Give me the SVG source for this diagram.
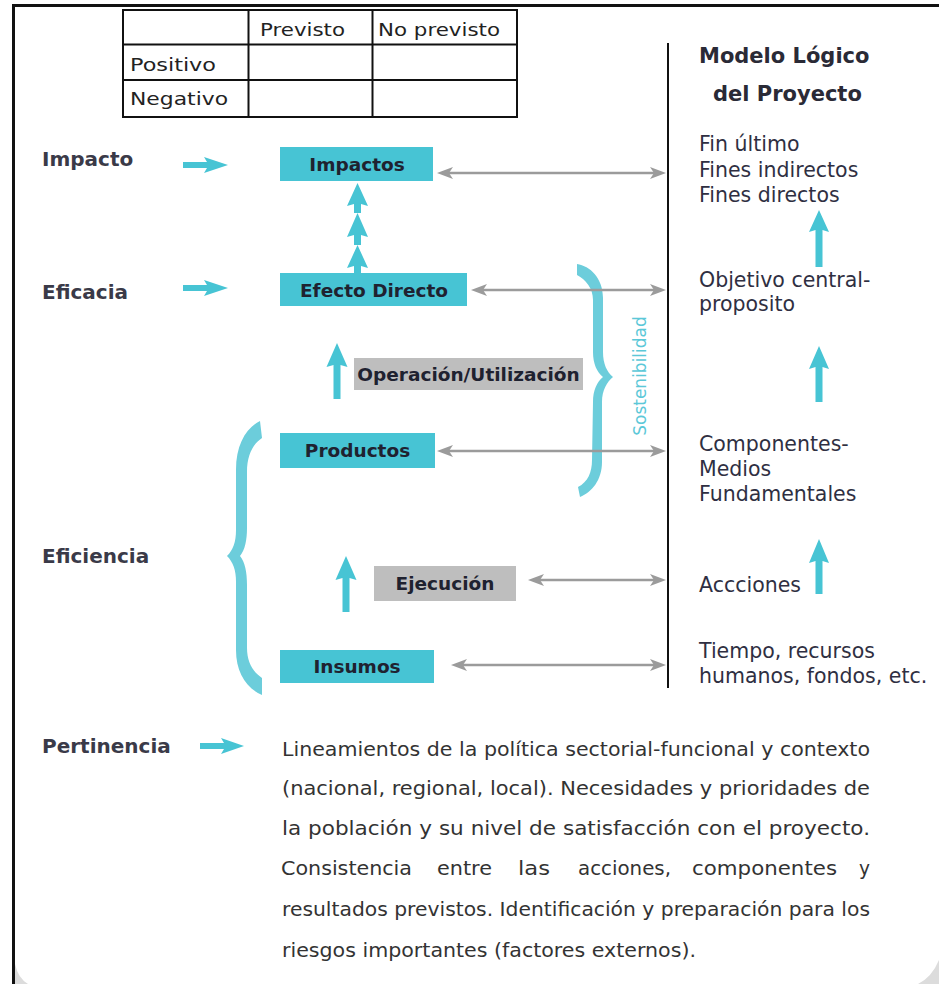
<svg xmlns="http://www.w3.org/2000/svg" width="939" height="984" viewBox="0 0 939 984">
<defs>
<style>
.lbl{font-family:"DejaVu Sans",sans-serif;font-weight:bold;font-size:20px;fill:#3a3a48}
.box{fill:#47c4d4}
.gbox{fill:#bebebe}
.bt{font-family:"DejaVu Sans",sans-serif;font-weight:bold;font-size:18.5px;fill:#1f2230;text-anchor:middle}
.rt{font-family:"DejaVu Sans",sans-serif;font-size:20.5px;fill:#2f2f42}
.rh{font-family:"DejaVu Sans",sans-serif;font-weight:bold;font-size:21px;fill:#2a2a36}
.tt{font-family:"DejaVu Sans",sans-serif;font-size:17px;fill:#222}
.pt{font-family:"DejaVu Sans",sans-serif;font-size:19px;fill:#333}
.cy{fill:#47c4d4}
.br{fill:#6ccddb}
.ga{stroke:#9b9b9b;stroke-width:2.5;fill:none;marker-start:url(#gh);marker-end:url(#gh)}
.tbl{stroke:#111;stroke-width:2;fill:none}
</style>
<marker id="gh" viewBox="0 0 16 12" refX="11" refY="6" markerWidth="16" markerHeight="12" markerUnits="userSpaceOnUse" orient="auto-start-reverse">
<path d="M0,0 L16,6 L0,12 L4,6 Z" fill="#9b9b9b"/>
</marker>
</defs>
<rect width="939" height="984" fill="#ffffff"/>
<g id="frame">
<path d="M15,964 Q18,978 28,984 L15,984 Z" fill="#dcdcdc"/>
<path d="M939,960 Q932,977 918,984 L939,984 Z" fill="#dcdcdc"/>
<line x1="12" y1="5.5" x2="939" y2="5.5" stroke="#111" stroke-width="3"/>
<line x1="13.5" y1="4" x2="13.5" y2="984" stroke="#111" stroke-width="3"/>
</g>
<g id="table">
<rect class="tbl" x="123" y="10" width="394" height="107"/>
<line class="tbl" x1="123" y1="44.5" x2="517" y2="44.5"/>
<line class="tbl" x1="123" y1="80" x2="517" y2="80"/>
<line class="tbl" x1="248.5" y1="10" x2="248.5" y2="117"/>
<line class="tbl" x1="372.5" y1="10" x2="372.5" y2="117"/>
<text class="tt" x="260" y="36" textLength="85" lengthAdjust="spacingAndGlyphs">Previsto</text>
<text class="tt" x="378" y="36" textLength="122" lengthAdjust="spacingAndGlyphs">No previsto</text>
<text class="tt" x="130" y="71" textLength="86" lengthAdjust="spacingAndGlyphs">Positivo</text>
<text class="tt" x="130" y="105" textLength="98" lengthAdjust="spacingAndGlyphs">Negativo</text>
</g>
<g id="label-impacto"><text class="lbl" x="42" y="166">Impacto</text></g>
<g id="label-eficacia"><text class="lbl" x="42" y="299">Eficacia</text></g>
<g id="label-eficiencia"><text class="lbl" x="42" y="563">Eficiencia</text></g>
<g id="label-pertinencia"><text class="lbl" x="42" y="753">Pertinencia</text></g>
<g id="node-impactos"><rect class="box" x="280" y="147" width="153" height="34"/><text class="bt" x="357" y="171">Impactos</text></g>
<g id="node-efecto"><rect class="box" x="280" y="273" width="187" height="33"/><text class="bt" x="374" y="297">Efecto Directo</text></g>
<g id="node-operacion"><rect class="gbox" x="354" y="358" width="229" height="32"/><text class="bt" x="468.5" y="381">Operación/Utilización</text></g>
<g id="node-productos"><rect class="box" x="280" y="433" width="155" height="35"/><text class="bt" x="357.5" y="457">Productos</text></g>
<g id="node-ejecucion"><rect class="gbox" x="374" y="566" width="142" height="35"/><text class="bt" x="445" y="590">Ejecución</text></g>
<g id="node-insumos"><rect class="box" x="280" y="650" width="154" height="33"/><text class="bt" x="357" y="673">Insumos</text></g>
<g id="brace-sostenibilidad">
<path class="br" d="M577,264 C590,266 603,278 603,298 L603,352 C603,364 607,372 613,377 C607,382 602,390 602,402 L602,462 C602,480 592,492 580,497 L578,487 C588,482 592,472 592,460 L593,402 C593,390 597,382 603,377 C597,372 593,364 593,352 L593,300 C593,288 586,280 577,275 Z"/>
<text transform="translate(646,376) rotate(-90)" text-anchor="middle" font-family="DejaVu Sans, sans-serif" font-size="17" fill="#5cc8d8">Sostenibilidad</text>
</g>
<g id="brace-eficiencia">
<path class="br" d="M260,421 C246,428 236,445 236,470 L236,530 C236,542 233,550 227,556 C233,562 236,570 236,582 L236,650 C236,672 246,688 262,695 L262,678 C253,672 247,662 247,648 L247,585 C247,572 245,562 240,556 C245,550 247,540 247,528 L247,472 C247,455 253,444 262,438 Z"/>
</g>
<g id="modelo-logico">
<line x1="668" y1="43" x2="668" y2="688" stroke="#111" stroke-width="2"/>
<text class="rh" x="699" y="63">Modelo Lógico</text>
<text class="rh" x="713" y="101">del Proyecto</text>
<text class="rt" x="699" y="151">Fin último</text>
<text class="rt" x="699" y="177">Fines indirectos</text>
<text class="rt" x="699" y="202">Fines directos</text>
<text class="rt" x="699" y="287">Objetivo central-</text>
<text class="rt" x="699" y="311">proposito</text>
<text class="rt" x="699" y="451">Componentes-</text>
<text class="rt" x="699" y="476">Medios</text>
<text class="rt" x="699" y="501">Fundamentales</text>
<text class="rt" x="699" y="592">Accciones</text>
<text class="rt" x="699" y="658">Tiempo, recursos</text>
<text class="rt" x="699" y="683">humanos, fondos, etc.</text>
</g>
<g id="pertinencia-text">
<text class="pt" x="282" y="756" textLength="588" lengthAdjust="spacingAndGlyphs">Lineamientos de la política sectorial-funcional y contexto</text>
<text class="pt" x="282" y="795" textLength="588" lengthAdjust="spacingAndGlyphs">(nacional, regional, local). Necesidades y prioridades de</text>
<text class="pt" x="282" y="835" textLength="588" lengthAdjust="spacingAndGlyphs">la población y su nivel de satisfacción con el proyecto.</text>
<text class="pt" x="281" y="875" textLength="131" lengthAdjust="spacingAndGlyphs">Consistencia</text>
<text class="pt" x="437" y="875" textLength="55" lengthAdjust="spacingAndGlyphs">entre</text>
<text class="pt" x="518" y="875" textLength="32" lengthAdjust="spacingAndGlyphs">las</text>
<text class="pt" x="578" y="875" textLength="93" lengthAdjust="spacingAndGlyphs">acciones,</text>
<text class="pt" x="692" y="875" textLength="145" lengthAdjust="spacingAndGlyphs">componentes</text>
<text class="pt" x="859" y="875" textLength="11" lengthAdjust="spacingAndGlyphs">y</text>
<text class="pt" x="282" y="916" textLength="588" lengthAdjust="spacingAndGlyphs">resultados previstos. Identificación y preparación para los</text>
<text class="pt" x="282" y="957" textLength="414" lengthAdjust="spacingAndGlyphs">riesgos importantes (factores externos).</text>
</g>
<g id="connectors">
<polygon class="cy" points="228,165 204,157 207,162 183,162 183,168 207,168 204,173"/>
<polygon class="cy" points="228,288 204,280 207,285 183,285 183,291 207,291 204,296"/>
<polygon class="cy" points="244,746 221,738 224,743 200,743 200,749 224,749 221,754"/>
<polygon class="cy" points="357.5,183 368,206 361,204 361,213 354,213 354,204 347,206"/>
<polygon class="cy" points="357.5,213 368,237 361,235 361,245 354,245 354,235 347,237"/>
<polygon class="cy" points="357.5,245 368,268 361,266 361,273 354,273 354,266 347,268"/>
<polygon class="cy" points="337,343 347.5,367 340.5,365 340.5,399 333.5,399 333.5,365 326.5,367"/>
<polygon class="cy" points="346,556 356.5,580 349.5,578 349.5,612 342.5,612 342.5,578 335.5,580"/>
<polygon class="cy" points="819,210 829,232 822.5,230 822.5,267 815.5,267 815.5,230 809,232"/>
<polygon class="cy" points="819,346 829,369 822.5,367 822.5,402 815.5,402 815.5,367 809,369"/>
<polygon class="cy" points="819,539 829,563 822.5,561 822.5,594 815.5,594 815.5,561 809,563"/>
<line class="ga" x1="442" y1="173" x2="661" y2="173"/>
<line class="ga" x1="476" y1="290" x2="661" y2="290"/>
<line class="ga" x1="442" y1="451" x2="661" y2="451"/>
<line class="ga" x1="533" y1="580" x2="661" y2="580"/>
<line class="ga" x1="456" y1="665" x2="661" y2="665"/>
</g>
</svg>
